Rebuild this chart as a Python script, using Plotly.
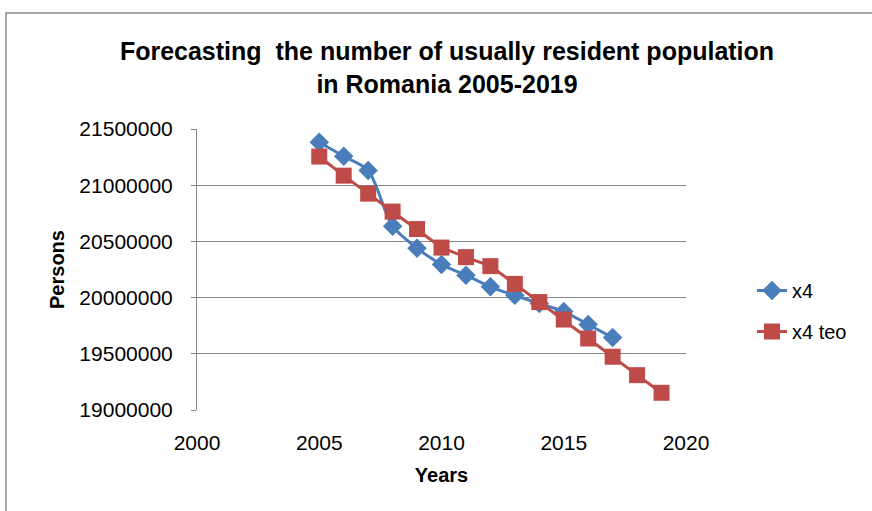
import plotly.graph_objects as go

years_x4 = [2005, 2006, 2007, 2008, 2009, 2010, 2011, 2012, 2013, 2014, 2015, 2016, 2017]
x4 = [21382000, 21257000, 21130000, 20635000, 20440000, 20295000, 20199000,
      20096000, 20020000, 19947000, 19876000, 19761000, 19644000]

years_teo = [2005, 2006, 2007, 2008, 2009, 2010, 2011, 2012, 2013, 2014, 2015, 2016, 2017, 2018, 2019]
x4_teo = [21255000, 21085000, 20925000, 20765000, 20610000, 20445000, 20360000, 20280000,
          20122000, 19960000, 19805000, 19636000, 19474000, 19310000, 19153000]

BLUE = "#4A7EBB"
RED = "#BE4B48"
FONT = "Liberation Sans"

fig = go.Figure()
fig.add_trace(go.Scatter(
    x=years_x4, y=x4, name="x4", mode="lines+markers", legendgroup="a",
    line=dict(color=BLUE, width=3, shape="spline", smoothing=0.8),
    marker=dict(symbol="diamond", size=15, color=BLUE),
))
fig.add_trace(go.Scatter(
    x=years_teo, y=x4_teo, name="x4 teo", mode="lines+markers", legendgroup="b",
    line=dict(color=RED, width=3),
    marker=dict(symbol="square", size=16, color=RED),
))

L, R, T, B = 197, 186, 129, 101
pw, ph = 872 - L - R, 511 - T - B

def px(x):
    return (x - L) / pw

def py(y):
    return (511 - B - y) / ph

fig.add_shape(type="rect", xref="paper", yref="paper",
              x0=px(6), x1=px(880), y0=py(530), y1=py(13),
              line=dict(color="#8A8A8A", width=1.5), fillcolor="rgba(0,0,0,0)",
              layer="below")

fig.update_layout(
    width=872, height=511,
    margin=dict(l=L, r=R, t=T, b=B),
    paper_bgcolor="white", plot_bgcolor="white",
    font=dict(family=FONT, size=20, color="#000000"),
    title=dict(
        text="<b>Forecasting  the number of usually resident population<br>in Romania 2005-2019</b>",
        x=447 / 872, xanchor="center", y=1 - 60 / 511, yanchor="middle",
        font=dict(family=FONT, size=25, color="#000000"),
    ),
    showlegend=True,
    legend=dict(
        x=px(752), xanchor="left", y=py(311), yanchor="middle",
        font=dict(family=FONT, size=20), bgcolor="rgba(0,0,0,0)",
        tracegroupgap=12, itemwidth=30,
    ),
    xaxis=dict(
        range=[2000, 2020], dtick=5, tick0=2000, showgrid=False, zeroline=False,
        showline=False, ticks="", ticklabelstandoff=18,
        tickfont=dict(size=21, family=FONT),
        title=dict(text="<b>Years</b>", font=dict(size=20, family=FONT), standoff=14),
    ),
    yaxis=dict(
        range=[19000000, 21500000], dtick=500000, tickformat="d",
        showgrid=True, gridcolor="#878787", gridwidth=1, zeroline=False,
        showline=True, linecolor="#878787", linewidth=1,
        ticks="outside", ticklen=5, tickcolor="#878787", ticklabelstandoff=14,
        tickfont=dict(size=21, family=FONT),
        title=dict(text="<b>Persons</b>", font=dict(size=20, family=FONT), standoff=9),
    ),
)

fig.write_html("out.html")
